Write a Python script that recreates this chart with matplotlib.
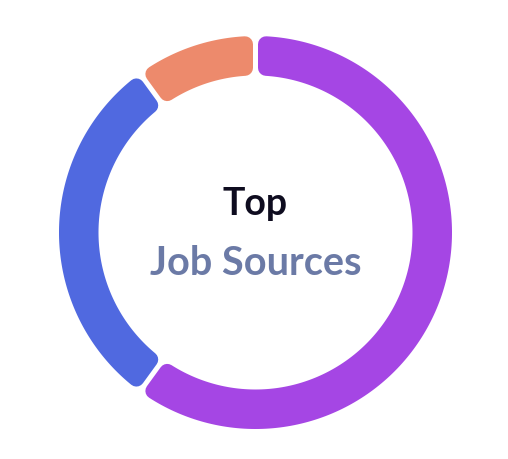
import numpy as np
import matplotlib
matplotlib.use("Agg")
import matplotlib.pyplot as plt
from matplotlib.patches import Polygon

# Data
categories = ["Source A", "Source B", "Source C"]
values = [60, 30, 10]
colors = ["#a546e4", "#5069e0", "#ed8a6c"]
title_top = "Top"
title_bottom = "Job Sources"

W, H = 508, 460
fig = plt.figure(figsize=(W / 100, H / 100), dpi=100)
ax = fig.add_axes([0, 0, 1, 1])
ax.set_xlim(0, W)
ax.set_ylim(0, H)
ax.set_aspect("equal")
ax.axis("off")

cx, cy = 255.5, H - 233.5
R_out, R_in = 196.5, 157.0
corner = 8.0
gap = 5.0

total = float(sum(values))
start = 0.0
for v, c in zip(values, colors):
    span = 360.0 * v / total
    a1, a2 = np.radians(start), np.radians(start + span)
    d = gap / 2 + corner
    ro, ri = R_out - corner, R_in + corner
    o1 = a1 + np.arcsin(d / ro)
    o2 = a2 - np.arcsin(d / ro)
    i1 = a1 + np.arcsin(d / ri)
    i2 = a2 - np.arcsin(d / ri)
    ta = np.linspace(o1, o2, 200)
    tb = np.linspace(i2, i1, 200)
    xs = np.concatenate([cx + ro * np.sin(ta), cx + ri * np.sin(tb)])
    ys = np.concatenate([cy + ro * np.cos(ta), cy + ri * np.cos(tb)])
    poly = Polygon(np.column_stack([xs, ys]), closed=True, facecolor=c,
                   edgecolor=c, linewidth=2 * corner * 72 / 100,
                   joinstyle="round")
    ax.add_patch(poly)
    start += span

ax.text(cx, H - 215, title_top, ha="center", va="baseline",
        fontsize=27, fontweight="bold", family=["Lato", "DejaVu Sans"],
        color="#0e0c1f")
ax.text(cx, H - 275, title_bottom, ha="center", va="baseline",
        fontsize=28.5, fontweight="bold", family=["Lato", "DejaVu Sans"],
        color="#6b7aa6")

fig.savefig("out.png", dpi=100)
